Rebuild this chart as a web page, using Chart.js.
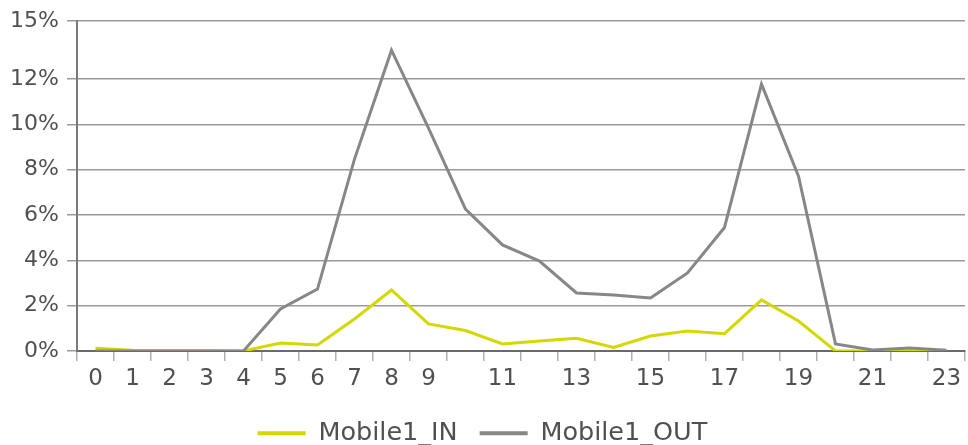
<!DOCTYPE html>
<html>
<head>
<meta charset="utf-8">
<script src="https://cdn.jsdelivr.net/npm/chart.js@4.4.1/dist/chart.umd.min.js"></script>
<style>
  html, body { margin: 0; padding: 0; background: #fff; }
  #wrap { width: 968px; height: 445px; }
</style>
</head>
<body>
<div id="wrap"><canvas id="grafico"></canvas></div>
<script>
// ore del giorno
var ore = ['0','1','2','3','4','5','6','7','8','9','10','11','12','13','14','15','16','17','18','19','20','21','22','23'];

// valori in %
var mobileIn = [0.12, 0.03, 0.02, 0.02, 0, 0.35, 0.26, 1.41, 2.69, 1.19, 0.9, 0.31, 0.44, 0.56, 0.15, 0.66, 0.88, 0.76, 2.25, 1.32, 0, 0, 0, 0];
var mobileOut = [0, 0, 0, 0, 0, 1.85, 2.73, 8.47, 13.28, 9.84, 6.26, 4.68, 3.97, 2.56, 2.47, 2.34, 3.44, 5.45, 11.78, 7.72, 0.31, 0.04, 0.13, 0.03];

// tacche asse y (l'ultima e' il massimo, etichettato arrotondato)
var tickY = [0, 2, 4, 6, 8, 10, 12, 14.56];

var coloreIn = '#d3d800';
var coloreOut = '#878787';

var chartLine = new Chart(document.getElementById('grafico'), {
    type: 'line',
    data: {
        labels: ore,
        datasets: [{
            label: 'Mobile1_IN',
            data: mobileIn,
            borderColor: coloreIn,
            backgroundColor: coloreIn,
            borderWidth: 3,
            pointRadius: 0,
            tension: 0,
            order: 1
        }, {
            label: 'Mobile1_OUT',
            data: mobileOut,
            borderColor: coloreOut,
            backgroundColor: coloreOut,
            borderWidth: 3,
            pointRadius: 0,
            tension: 0,
            order: 0
        }]
    },
    options: {
        responsive: true,
        maintainAspectRatio: false,
        animation: false,
        // padding sotto negativo per spingere la legenda in basso
        layout: { padding: { left: 0, right: 3, top: 20, bottom: -11 } },
        scales: {
            x: {
                offset: true,
                afterFit: function (scale) {
                    scale.height += 2;
                },
                grid: {
                    offset: true,
                    drawOnChartArea: false,
                    drawTicks: true,
                    tickLength: 10,
                    color: '#b0b0b0',
                    lineWidth: 1.5
                },
                border: { color: '#6a6a6a', width: 2 },
                ticks: {
                    autoSkip: false,
                    maxRotation: 0,
                    padding: 4,
                    color: '#505050',
                    font: { family: 'DejaVu Sans', size: 23 },
                    callback: function (val, i) {
                        return (i <= 9 || i % 2 === 1) ? ore[i] : '';
                    }
                }
            },
            y: {
                min: 0,
                max: tickY[tickY.length - 1],
                afterBuildTicks: function (scale) {
                    scale.ticks = tickY.map(function (v) { return { value: v }; });
                },
                afterFit: function (scale) {
                    scale.width = 77;
                },
                grid: {
                    color: '#9a9a9a',
                    lineWidth: 1.5,
                    drawTicks: true,
                    tickLength: 10
                },
                border: { color: '#7a7a7a', width: 2 },
                ticks: {
                    padding: 8,
                    color: '#505050',
                    font: { family: 'DejaVu Sans', size: 22 },
                    callback: function (v) {
                        return Math.round(v) + '%';
                    }
                }
            }
        },
        plugins: {
            tooltip: { enabled: false },
            legend: {
                position: 'bottom',
                labels: {
                    boxWidth: 48,
                    boxHeight: 4,
                    padding: 22,
                    color: '#505050',
                    font: { family: 'DejaVu Sans', size: 25.5 },
                    sort: function (a, b) { return a.datasetIndex - b.datasetIndex; },
                    generateLabels: function (chart) {
                        var items = Chart.defaults.plugins.legend.labels.generateLabels(chart);
                        items.forEach(function (it) {
                            it.fillStyle = chart.data.datasets[it.datasetIndex].borderColor;
                            it.lineWidth = 0;
                        });
                        return items;
                    }
                }
            }
        }
    }
});
</script>
</body>
</html>
